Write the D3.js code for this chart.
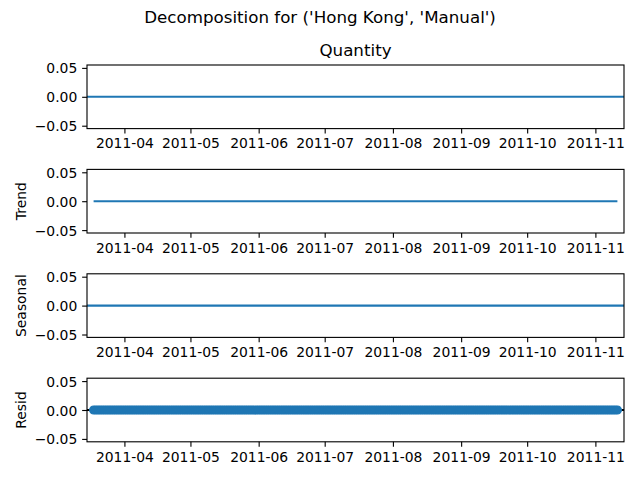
<!DOCTYPE html>
<html>
<head>
<meta charset="utf-8">
<script src="https://cdn.jsdelivr.net/npm/d3@7"></script>
<style>
  body { margin: 0; background: #fff; }
  text { font-family: "DejaVu Sans", sans-serif; fill: #000; }
</style>
</head>
<body>
<svg id="chart" width="640" height="480"></svg>
<script>
// Données (série journalière, toutes les valeurs à zéro)
var startDate = "2011-03-15";
var panelNames = ["Quantity", "Trend", "Seasonal", "Resid"];
var yTicks = [-0.05, 0.00, 0.05];
var yDomain = [-0.055, 0.055];

var observed = [
  0,0,0,0,0,0,0, 0,0,0,0,0,0,0, 0,0,0,0,0,0,0, 0,0,0,0,0,0,0, 0,0,0,0,0,0,0,
  0,0,0,0,0,0,0, 0,0,0,0,0,0,0, 0,0,0,0,0,0,0, 0,0,0,0,0,0,0, 0,0,0,0,0,0,0,
  0,0,0,0,0,0,0, 0,0,0,0,0,0,0, 0,0,0,0,0,0,0, 0,0,0,0,0,0,0, 0,0,0,0,0,0,0,
  0,0,0,0,0,0,0, 0,0,0,0,0,0,0, 0,0,0,0,0,0,0, 0,0,0,0,0,0,0, 0,0,0,0,0,0,0,
  0,0,0,0,0,0,0, 0,0,0,0,0,0,0, 0,0,0,0,0,0,0, 0,0,0,0,0,0,0, 0,0,0,0,0,0,0,
  0,0,0,0,0,0,0, 0,0,0,0,0,0,0, 0,0,0,0,0,0,0, 0,0,0,0,0,0,0, 0,0,0,0,0,0,0,
  0,0,0,0,0,0,0, 0,0,0,0,0,0,0, 0,0,0,0,0,0,0, 0,0,0,0,0,0,0, 0,0,0,0,0,0,0
];
var trend = [
  null,null,null,0,0,0,0, 0,0,0,0,0,0,0, 0,0,0,0,0,0,0, 0,0,0,0,0,0,0, 0,0,0,0,0,0,0,
  0,0,0,0,0,0,0, 0,0,0,0,0,0,0, 0,0,0,0,0,0,0, 0,0,0,0,0,0,0, 0,0,0,0,0,0,0,
  0,0,0,0,0,0,0, 0,0,0,0,0,0,0, 0,0,0,0,0,0,0, 0,0,0,0,0,0,0, 0,0,0,0,0,0,0,
  0,0,0,0,0,0,0, 0,0,0,0,0,0,0, 0,0,0,0,0,0,0, 0,0,0,0,0,0,0, 0,0,0,0,0,0,0,
  0,0,0,0,0,0,0, 0,0,0,0,0,0,0, 0,0,0,0,0,0,0, 0,0,0,0,0,0,0, 0,0,0,0,0,0,0,
  0,0,0,0,0,0,0, 0,0,0,0,0,0,0, 0,0,0,0,0,0,0, 0,0,0,0,0,0,0, 0,0,0,0,0,0,0,
  0,0,0,0,0,0,0, 0,0,0,0,0,0,0, 0,0,0,0,0,0,0, 0,0,0,0,0,0,0, 0,0,0,0,null,null,null
];
var seasonal = [
  0,0,0,0,0,0,0, 0,0,0,0,0,0,0, 0,0,0,0,0,0,0, 0,0,0,0,0,0,0, 0,0,0,0,0,0,0,
  0,0,0,0,0,0,0, 0,0,0,0,0,0,0, 0,0,0,0,0,0,0, 0,0,0,0,0,0,0, 0,0,0,0,0,0,0,
  0,0,0,0,0,0,0, 0,0,0,0,0,0,0, 0,0,0,0,0,0,0, 0,0,0,0,0,0,0, 0,0,0,0,0,0,0,
  0,0,0,0,0,0,0, 0,0,0,0,0,0,0, 0,0,0,0,0,0,0, 0,0,0,0,0,0,0, 0,0,0,0,0,0,0,
  0,0,0,0,0,0,0, 0,0,0,0,0,0,0, 0,0,0,0,0,0,0, 0,0,0,0,0,0,0, 0,0,0,0,0,0,0,
  0,0,0,0,0,0,0, 0,0,0,0,0,0,0, 0,0,0,0,0,0,0, 0,0,0,0,0,0,0, 0,0,0,0,0,0,0,
  0,0,0,0,0,0,0, 0,0,0,0,0,0,0, 0,0,0,0,0,0,0, 0,0,0,0,0,0,0, 0,0,0,0,0,0,0
];
var resid = [
  null,null,null,0,0,0,0, 0,0,0,0,0,0,0, 0,0,0,0,0,0,0, 0,0,0,0,0,0,0, 0,0,0,0,0,0,0,
  0,0,0,0,0,0,0, 0,0,0,0,0,0,0, 0,0,0,0,0,0,0, 0,0,0,0,0,0,0, 0,0,0,0,0,0,0,
  0,0,0,0,0,0,0, 0,0,0,0,0,0,0, 0,0,0,0,0,0,0, 0,0,0,0,0,0,0, 0,0,0,0,0,0,0,
  0,0,0,0,0,0,0, 0,0,0,0,0,0,0, 0,0,0,0,0,0,0, 0,0,0,0,0,0,0, 0,0,0,0,0,0,0,
  0,0,0,0,0,0,0, 0,0,0,0,0,0,0, 0,0,0,0,0,0,0, 0,0,0,0,0,0,0, 0,0,0,0,0,0,0,
  0,0,0,0,0,0,0, 0,0,0,0,0,0,0, 0,0,0,0,0,0,0, 0,0,0,0,0,0,0, 0,0,0,0,0,0,0,
  0,0,0,0,0,0,0, 0,0,0,0,0,0,0, 0,0,0,0,0,0,0, 0,0,0,0,0,0,0, 0,0,0,0,null,null,null
];

var series = [observed, trend, seasonal, resid];

// Dates : une par jour à partir de startDate
var start = d3.timeParse("%Y-%m-%d")(startDate);
var dates = observed.map(function(d, i) {
  return d3.timeDay.offset(start, i);
});

// Mise en page (pixels, style matplotlib)
var left = 87, right = 624;
var top0 = 65, step = 104.4, panelH = 63.6;
var blue = "#1f77b4";
var fs = 13.9;

var svg = d3.select("#chart");

var x = d3.scaleTime()
  .domain([dates[0], dates[dates.length - 1]])
  .range([left, right]);

var monthTicks = d3.timeMonth.range(d3.timeMonth.ceil(dates[0]), dates[dates.length - 1]);
var fmtDate = d3.timeFormat("%Y-%m");
var fmtY = d3.format(".2f");

// Titre général
svg.append("text")
  .attr("x", 320)
  .attr("y", 22.5)
  .attr("text-anchor", "middle")
  .attr("font-size", "16.7px")
  .text("Decomposition for ('Hong Kong', 'Manual')");

panelNames.forEach(function(name, p) {
  var top = top0 + p * step;
  var bottom = top + panelH;
  var y = d3.scaleLinear().domain(yDomain).range([bottom, top]);
  var g = svg.append("g");

  var clipId = "clip" + p;
  svg.append("clipPath").attr("id", clipId)
    .append("rect")
    .attr("x", left).attr("y", top)
    .attr("width", right - left).attr("height", panelH);

  var plot = g.append("g").attr("clip-path", "url(#" + clipId + ")");
  var data = series[p].map(function(v, i) { return { date: dates[i], v: v }; });

  if (p < 3) {
    var line = d3.line()
      .defined(function(d) { return d.v !== null; })
      .x(function(d) { return x(d.date); })
      .y(function(d) { return y(d.v); });
    plot.append("path")
      .datum(data)
      .attr("d", line)
      .attr("fill", "none")
      .attr("stroke", blue)
      .attr("stroke-width", 2.08);
  } else {
    // ligne noire à zéro derrière les résidus
    plot.append("line")
      .attr("x1", left).attr("x2", right)
      .attr("y1", y(0)).attr("y2", y(0))
      .attr("stroke", "#000")
      .attr("stroke-width", 2.08);
    plot.selectAll("circle")
      .data(data.filter(function(d) { return d.v !== null; }))
      .enter()
      .append("circle")
      .attr("cx", function(d) { return x(d.date); })
      .attr("cy", function(d) { return y(d.v); })
      .attr("r", 4.0)
      .attr("fill", blue)
      .attr("stroke", blue)
      .attr("stroke-width", 1.2);
  }

  // Axe X
  var xAxis = d3.axisBottom(x)
    .tickValues(monthTicks)
    .tickFormat(fmtDate)
    .tickSizeInner(4.86)
    .tickSizeOuter(0)
    .tickPadding(4.86);
  var gx = g.append("g")
    .attr("transform", "translate(0," + bottom + ")")
    .call(xAxis);
  gx.select(".domain").remove();
  gx.selectAll("line").attr("stroke", "#000").attr("stroke-width", 1.11);
  gx.selectAll("text")
    .attr("font-size", fs + "px")
    .attr("font-family", "DejaVu Sans")
    .attr("fill", "#000")
    .attr("dy", null)
    .attr("y", 9.72 + 10.1);

  // Axe Y
  var yAxis = d3.axisLeft(y)
    .tickValues(yTicks)
    .tickFormat(fmtY)
    .tickSizeInner(4.86)
    .tickSizeOuter(0)
    .tickPadding(4.86);
  var gy = g.append("g")
    .attr("transform", "translate(" + left + ",0)")
    .call(yAxis);
  gy.select(".domain").remove();
  gy.selectAll("line").attr("stroke", "#000").attr("stroke-width", 1.11);
  gy.selectAll("text")
    .attr("font-size", fs + "px")
    .attr("font-family", "DejaVu Sans")
    .attr("fill", "#000")
    .attr("dy", null)
    .attr("y", 5);

  // Cadre
  g.append("rect")
    .attr("x", left).attr("y", top)
    .attr("width", right - left).attr("height", panelH)
    .attr("fill", "none")
    .attr("stroke", "#000")
    .attr("stroke-width", 1.11);

  // Titre ou étiquette
  if (p === 0) {
    g.append("text")
      .attr("x", (left + right) / 2)
      .attr("y", top - 9)
      .attr("text-anchor", "middle")
      .attr("font-size", "16.7px")
      .text(name);
  } else {
    g.append("text")
      .attr("transform", "translate(25.5," + (top + panelH / 2) + ") rotate(-90)")
      .attr("text-anchor", "middle")
      .attr("font-size", fs + "px")
      .text(name);
  }
});
</script>
</body>
</html>
